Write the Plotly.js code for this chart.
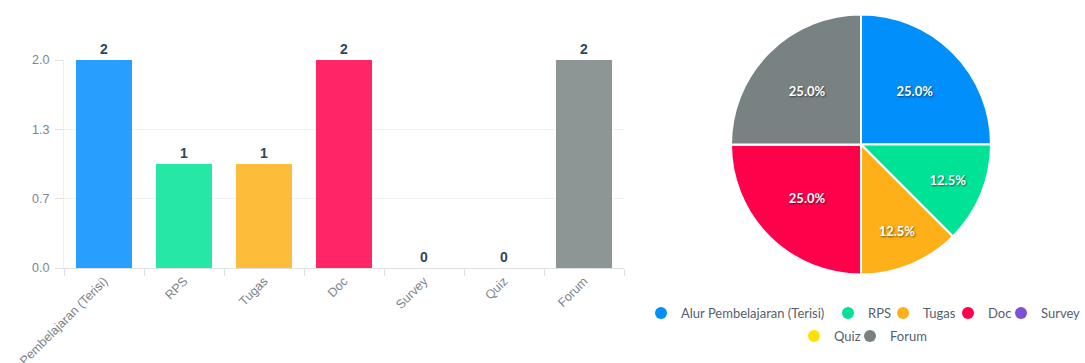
<!DOCTYPE html>
<html>
<head>
<meta charset="utf-8">
<script src="https://cdn.plot.ly/plotly-3.0.1.min.js"></script>
<style>
  html, body { margin: 0; padding: 0; background: #ffffff; }
  #chart { width: 1085px; height: 363px; }
</style>
</head>
<body>
<div id="chart"></div>
<script>
// ---- data ----
var categories = ["Alur Pembelajaran (Terisi)", "RPS", "Tugas", "Doc", "Survey", "Quiz", "Forum"];
var values = [2, 1, 1, 2, 0, 0, 2];
var colors = ["#008FFB", "#00E396", "#FEB019", "#FF004B", "#7B4FD6", "#FFE100", "#798282"];
var yMax = 2;

// ---- layout helpers (pixels -> paper) ----
var W = 1085, H = 363;
function px(x) { return x / W; }
function py(y) { return 1 - y / H; }

// legend placement (marker centre x, row centre y) in pixels
var legendSpots = [[667, 313], [854, 313], [909, 313], [974, 313], [1027, 313], [820, 336], [876, 336]];

function hexToRgba(hex, a) {
  var n = parseInt(hex.slice(1), 16);
  return "rgba(" + ((n >> 16) & 255) + "," + ((n >> 8) & 255) + "," + (n & 255) + "," + a + ")";
}

var traces = [];

traces.push({
  type: "bar",
  x: categories,
  y: values,
  marker: { color: colors.map(function (c) { return hexToRgba(c, 0.85); }), line: { width: 0 } },
  text: values.map(String),
  textposition: "outside",
  cliponaxis: false,
  textfont: { family: "Liberation Sans, Arial, sans-serif", size: 14, color: "#304758", weight: "bold" },
  showlegend: false,
  hoverinfo: "x+y"
});

traces.push({
  type: "pie",
  labels: categories,
  values: values,
  sort: false,
  direction: "clockwise",
  rotation: 0,
  marker: { colors: colors, line: { color: "#ffffff", width: 2 } },
  texttemplate: "%{percent:.1%}",
  textposition: "inside",
  insidetextorientation: "horizontal",
  textfont: { family: "Lato, sans-serif", size: 13, color: "#ffffff", weight: "bold",
              shadow: "1px 1px 2px rgba(0,0,0,0.55)" },
  domain: { x: [px(731), px(991)], y: [py(275), py(14)] },
  showlegend: false,
  hoverinfo: "label+value+percent"
});

// legend entries (one legend per entry so they can wrap like the original)
var layoutLegends = {};
categories.forEach(function (c, i) {
  var key = i === 0 ? "legend" : "legend" + (i + 1);
  traces.push({
    type: "scatter",
    mode: "markers",
    x: [null], y: [null],
    name: c,
    marker: { symbol: "circle", size: 12, color: colors[i] },
    legend: key,
    showlegend: true,
    hoverinfo: "skip"
  });
  layoutLegends[key] = {
    orientation: "h",
    x: px(legendSpots[i][0] - 26),
    xanchor: "left",
    y: py(legendSpots[i][1]),
    yanchor: "middle",
    bgcolor: "rgba(0,0,0,0)",
    borderwidth: 0,
    itemwidth: 30,
    itemclick: false,
    itemdoubleclick: false,
    font: { family: "Lato, sans-serif", size: 13, color: "#56606d" }
  };
});

var layout = {
  width: W,
  height: H,
  margin: { l: 0, r: 0, t: 0, b: 0, autoexpand: false },
  paper_bgcolor: "#ffffff",
  plot_bgcolor: "#ffffff",
  bargap: 0.3,
  xaxis: {
    domain: [px(64), px(624)],
    type: "category",
    tickangle: -45,
    ticks: "outside",
    tickson: "boundaries",
    ticklen: 7,
    tickcolor: "#e0e0e0",
    showline: true,
    linecolor: "#e0e0e0",
    linewidth: 1,
    showgrid: false,
    zeroline: false,
    automargin: false,
    tickfont: { family: "Liberation Sans, Arial, sans-serif", size: 12.5, color: "#7c838c" },
    fixedrange: true
  },
  yaxis: {
    domain: [py(268), py(60)],
    range: [0, yMax],
    tickvals: [0, 1, 2, 3].map(function (i) { return i * yMax / 3; }),
    tickformat: ".1f",
    ticks: "outside",
    ticklen: 8,
    tickcolor: "#e0e0e0",
    ticklabelstandoff: 3,
    showline: true,
    linecolor: "#eeeeee",
    showgrid: true,
    gridcolor: "#f1f1f1",
    zeroline: false,
    automargin: false,
    tickfont: { family: "Liberation Sans, Arial, sans-serif", size: 12.5, color: "#7c838c" },
    fixedrange: true
  },
  showlegend: true
};
Object.keys(layoutLegends).forEach(function (k) { layout[k] = layoutLegends[k]; });

Plotly.newPlot("chart", traces, layout, { displayModeBar: false });
</script>
</body>
</html>
